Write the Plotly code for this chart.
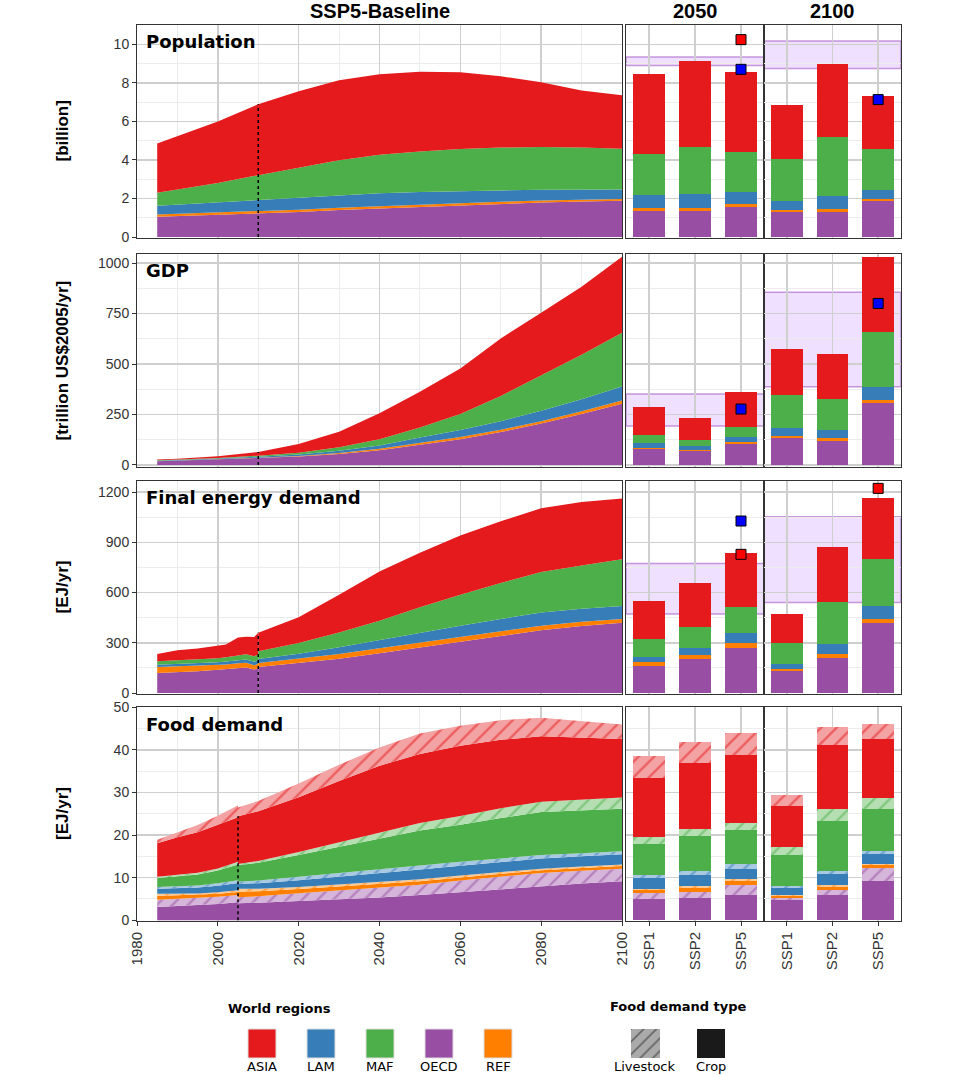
import plotly.graph_objects as go

# ---------------- DATA ----------------
REGIONS = ["OECD", "REF", "LAM", "MAF", "ASIA"]          # stacking order (bottom -> top)
SCEN = ["SSP1", "SSP2", "SSP5"]
BAR_YEARS = ["2050", "2100"]

# Population [billion]
POP_YEARS = [1985, 2000, 2010, 2020, 2030, 2040, 2050, 2060, 2070, 2080, 2090, 2100]
POP_OECD = [1.05, 1.15, 1.21, 1.30, 1.40, 1.48, 1.55, 1.65, 1.72, 1.79, 1.84, 1.88]
POP_REF = [0.12, 0.12, 0.12, 0.12, 0.12, 0.12, 0.13, 0.12, 0.11, 0.10, 0.10, 0.09]
POP_LAM = [0.45, 0.53, 0.59, 0.63, 0.66, 0.67, 0.65, 0.62, 0.59, 0.56, 0.53, 0.50]
POP_MAF = [0.68, 1.00, 1.29, 1.55, 1.80, 2.00, 2.11, 2.18, 2.22, 2.22, 2.18, 2.11]
POP_ASIA = [2.55, 3.20, 3.68, 3.96, 4.15, 4.18, 4.13, 3.98, 3.70, 3.36, 2.95, 2.78]

# GDP [trillion US$2005/yr]
GDP_YEARS = [1985, 1990, 2000, 2010, 2020, 2030, 2040, 2050, 2060, 2070, 2080, 2090, 2100]
GDP_OECD = [18, 21, 28, 34, 42, 54, 73, 100, 128, 163, 205, 252, 303]
GDP_REF = [1, 1, 1, 2, 3, 5, 7, 9, 10, 11, 12, 14, 16]
GDP_LAM = [2, 2, 3, 5, 7, 11, 17, 27, 35, 43, 52, 60, 70]
GDP_MAF = [2, 2, 3, 5, 9, 18, 30, 50, 80, 125, 175, 220, 266]
GDP_ASIA = [4, 5, 8, 18, 43, 76, 129, 177, 225, 285, 310, 337, 376]

# Final energy demand [EJ/yr] - history and projection
FE_H_YEARS = [1985, 1990, 1995, 2000, 2002, 2005, 2007, 2009, 2010]
FE_H_OECD = [119, 124, 130, 139, 143, 150, 152, 140, 148]
FE_H_REF = [36, 35, 30, 28, 27, 27, 28, 26, 26]
FE_H_LAM = [14, 15, 16, 17, 18, 19, 20, 20, 22]
FE_H_MAF = [20, 21, 22, 24, 26, 30, 32, 33, 35]
FE_H_ASIA = [44, 60, 67, 77, 76, 105, 104, 116, 129]

FE_P_YEARS = [2010, 2020, 2030, 2040, 2050, 2060, 2070, 2080, 2090, 2100]
FE_P_OECD = [155, 178, 205, 238, 271, 305, 340, 375, 400, 420]
FE_P_REF = [24, 26, 28, 29, 29, 29, 28, 27, 25, 22]
FE_P_LAM = [24, 30, 40, 50, 60, 68, 74, 78, 78, 77]
FE_P_MAF = [46, 65, 89, 115, 152, 185, 215, 242, 259, 279]
FE_P_ASIA = [111, 153, 225, 294, 326, 354, 368, 382, 378, 364]

# Food demand [EJ/yr] - crop (C) and livestock (L)
FOOD_H_YEARS = [1985, 1990, 1995, 2000, 2005]
FOOD_H_OECD_C = [3.1, 3.3, 3.5, 3.8, 4.2]
FOOD_H_OECD_L = [1.7, 1.7, 1.7, 1.7, 1.7]
FOOD_H_REF_C = [0.9, 0.85, 0.7, 0.7, 0.7]
FOOD_H_REF_L = [0.5, 0.45, 0.35, 0.35, 0.4]
FOOD_H_LAM_C = [1.2, 1.3, 1.4, 1.55, 1.75]
FOOD_H_LAM_L = [0.4, 0.45, 0.5, 0.55, 0.65]
FOOD_H_MAF_C = [2.1, 2.3, 2.6, 3.0, 3.7]
FOOD_H_MAF_L = [0.3, 0.35, 0.4, 0.5, 0.6]
FOOD_H_ASIA_C = [7.9, 8.8, 9.5, 10.2, 10.5]
FOOD_H_ASIA_L = [0.8, 1.2, 1.7, 2.2, 2.8]

FOOD_P_YEARS = [2005, 2010, 2020, 2030, 2040, 2050, 2060, 2070, 2080, 2090, 2100]
FOOD_P_OECD_C = [4.0, 4.1, 4.5, 4.9, 5.3, 5.9, 6.6, 7.3, 8.0, 8.6, 9.15]
FOOD_P_OECD_L = [1.4, 1.5, 1.8, 2.1, 2.3, 2.4, 2.7, 2.9, 3.1, 3.0, 2.95]
FOOD_P_REF_C = [1.3, 1.2, 1.0, 0.9, 0.85, 0.85, 0.75, 0.7, 0.65, 0.65, 0.65]
FOOD_P_REF_L = [0.7, 0.6, 0.5, 0.45, 0.45, 0.45, 0.45, 0.4, 0.35, 0.35, 0.35]
FOOD_P_LAM_C = [1.15, 1.3, 1.6, 1.85, 2.1, 2.3, 2.3, 2.35, 2.4, 2.4, 2.4]
FOOD_P_LAM_L = [0.55, 0.6, 0.8, 0.9, 1.0, 0.95, 0.9, 0.85, 0.8, 0.75, 0.7]
FOOD_P_MAF_C = [3.8, 4.2, 5.1, 6.1, 7.1, 8.2, 8.7, 9.5, 10.1, 10.1, 10.0]
FOOD_P_MAF_L = [0.3, 0.4, 0.7, 1.1, 1.5, 1.8, 2.1, 2.3, 2.4, 2.5, 2.6]
FOOD_P_ASIA_C = [11.2, 11.7, 12.9, 14.4, 15.7, 16.2, 16.5, 16.1, 15.4, 14.6, 13.8]
FOOD_P_ASIA_L = [2.1, 2.4, 3.2, 3.8, 4.3, 4.8, 4.7, 4.6, 4.4, 3.9, 3.4]

# Scenario bars: order = 2050 SSP1, SSP2, SSP5, 2100 SSP1, SSP2, SSP5
POPB_OECD = [1.36, 1.35, 1.54, 1.30, 1.31, 1.87]
POPB_REF = [0.16, 0.14, 0.15, 0.10, 0.14, 0.10]
POPB_LAM = [0.66, 0.75, 0.64, 0.47, 0.67, 0.45]
POPB_MAF = [2.14, 2.42, 2.09, 2.17, 3.08, 2.14]
POPB_ASIA = [4.13, 4.49, 4.13, 2.83, 3.80, 2.76]

GDPB_OECD = [78, 69, 102, 132, 120, 305]
GDPB_REF = [5, 5, 10, 12, 12, 17]
GDPB_LAM = [24, 20, 27, 38, 41, 66]
GDPB_MAF = [40, 30, 48, 163, 154, 269]
GDPB_ASIA = [142, 107, 176, 229, 221, 374]

FEB_OECD = [163, 201, 271, 131, 211, 420]
FEB_REF = [20, 24, 29, 12, 22, 22]
FEB_LAM = [34, 46, 60, 28, 60, 77]
FEB_MAF = [103, 123, 152, 129, 252, 279]
FEB_ASIA = [229, 261, 326, 170, 328, 364]

FOODB_OECD_C = [4.9, 5.3, 5.9, 4.85, 5.9, 9.15]
FOODB_OECD_L = [1.4, 1.3, 2.3, 0.25, 1.1, 3.15]
FOODB_REF_C = [0.7, 0.9, 0.9, 0.5, 0.75, 0.65]
FOODB_REF_L = [0.4, 0.5, 0.5, 0.3, 0.45, 0.35]
FOODB_LAM_C = [2.4, 2.6, 2.5, 1.7, 2.6, 2.2]
FOODB_LAM_L = [0.9, 0.9, 1.0, 0.4, 0.8, 0.7]
FOODB_MAF_C = [7.1, 8.2, 8.2, 7.4, 11.6, 10.0]
FOODB_MAF_L = [1.8, 1.7, 1.6, 1.7, 3.0, 2.6]
FOODB_ASIA_C = [13.9, 15.5, 16.0, 9.8, 15.0, 13.7]
FOODB_ASIA_L = [5.1, 5.0, 5.2, 2.6, 4.2, 3.5]

# Other-model markers: (year panel, scenario, value, colour)
POP_MARKS = [("2050", "SSP5", 10.24, "#ff0000"), ("2050", "SSP5", 8.7, "#0000ff"), ("2100", "SSP5", 7.13, "#0000ff")]
GDP_MARKS = [("2050", "SSP5", 277, "#0000ff"), ("2100", "SSP5", 800, "#0000ff")]
FE_MARKS = [("2050", "SSP5", 1027, "#0000ff"), ("2050", "SSP5", 828, "#ff0000"), ("2100", "SSP5", 1222, "#ff0000")]

# Literature ranges (low, high) for 2050 and 2100
POP_BANDS = [(8.9, 9.34), (8.74, 10.17)]
GDP_BANDS = [(193, 351), (388, 856)]
FE_BANDS = [(472, 774), (541, 1053)]

PANEL_TITLES = ["Population", "GDP", "Final energy demand", "Food demand"]
UNIT_TITLES = ["[billion]", "[trillion US$2005/yr]", "[EJ/yr]", "[EJ/yr]"]
TOP_TITLES = ["SSP5-Baseline", "2050", "2100"]
FOOD_TYPES = ["Livestock", "Crop"]

# ---------------- STYLE ----------------
W, H = 960, 1075
COL = {"ASIA": "#e41a1c", "LAM": "#377eb8", "MAF": "#4daf4a", "OECD": "#984ea3", "REF": "#ff7f00"}
LIGHT = {"ASIA": "#f4a3a4", "LAM": "#a9c9e3", "MAF": "#b5dfb3", "OECD": "#d5b6da", "REF": "#ffc994"}
MAJ = "#cfcfcf"
MIN = "#ececec"
FRAME = "#333333"
TICKFONT = dict(family="Liberation Sans, Arial, sans-serif", size=14, color="#333333")
XTICKFONT = dict(family="Liberation Sans, Arial, sans-serif", size=15, color="#333333")

ROWS_PX = [(25, 238), (254, 467), (481, 694), (707, 921)]
COLS_PX = [(137, 622), (626, 764), (764, 901)]
YRANGES = [[-0.05, 11.0], [-10, 1045], [-6, 1266], [-0.2, 50.1]]
YDTICK = [2, 250, 300, 10]


def X(p):
    return p / W


def Y(p):
    return 1 - p / H


def sfx(k):
    return "" if k == 1 else str(k)


fig = go.Figure()
layout = dict(
    width=W, height=H, margin=dict(l=0, r=0, t=0, b=0, pad=0, autoexpand=False),
    paper_bgcolor="white", plot_bgcolor="white",
    showlegend=False, barmode="stack", bargap=0.3,
)

for r in range(4):
    for c in range(3):
        k = r * 3 + c + 1
        xa = dict(domain=[X(COLS_PX[c][0]), X(COLS_PX[c][1])], anchor="y" + sfx(k),
                  showline=True, mirror=True, linecolor=FRAME, linewidth=1,
                  showgrid=True, gridcolor=MAJ, gridwidth=1.5, zeroline=False,
                  ticks="outside" if r == 3 else "", ticklen=4, tickcolor="#333333",
                  showticklabels=(r == 3), tickangle=-90, tickfont=XTICKFONT,
                  automargin=False)
        if c == 0:
            xa.update(type="linear", range=[1980, 2100], dtick=20, tick0=1980,
                      minor=dict(dtick=10, showgrid=True, gridcolor=MIN, gridwidth=1))
        else:
            xa.update(type="category", range=[-0.5, 2.5], categoryorder="array", categoryarray=SCEN)
        ya = dict(domain=[Y(ROWS_PX[r][1]), Y(ROWS_PX[r][0])], anchor="x" + sfx(k),
                  range=YRANGES[r], dtick=YDTICK[r], tick0=0,
                  showline=True, mirror=True, linecolor=FRAME, linewidth=1,
                  showgrid=True, gridcolor=MAJ, gridwidth=1.5, zeroline=False,
                  minor=dict(dtick=YDTICK[r] / 2, showgrid=True, gridcolor=MIN, gridwidth=1),
                  showticklabels=(c == 0), ticks="outside" if c == 0 else "",
                  ticklen=4, tickcolor="#333333", tickfont=TICKFONT, automargin=False)
        layout["xaxis" + sfx(k)] = xa
        layout["yaxis" + sfx(k)] = ya


def axes(r, c):
    k = r * 3 + c + 1
    return "x" + sfx(k), "y" + sfx(k)


def area(r, years, vals, region, group, livestock=False):
    xa, ya = axes(r, 0)
    kw = dict(x=years, y=vals, stackgroup=group, mode="lines",
              line=dict(width=0, color=COL[region]), xaxis=xa, yaxis=ya,
              hoverinfo="skip", showlegend=False)
    if livestock:
        kw["fillcolor"] = LIGHT[region]
        kw["fillpattern"] = dict(shape="/", fgcolor=COL[region], bgcolor=LIGHT[region],
                                 size=11, solidity=0.22)
    else:
        kw["fillcolor"] = COL[region]
    fig.add_trace(go.Scatter(**kw))


def bars(r, vals, region, livestock=False):
    for j, c in enumerate([1, 2]):
        xa, ya = axes(r, c)
        marker = dict(color=COL[region], line=dict(width=0))
        if livestock:
            marker = dict(color=LIGHT[region], line=dict(width=0),
                          pattern=dict(shape="/", fgcolor=COL[region], size=11,
                                       solidity=0.22, fillmode="overlay"))
        fig.add_trace(go.Bar(x=SCEN, y=vals[3 * j:3 * j + 3], width=0.7, marker=marker,
                             xaxis=xa, yaxis=ya, hoverinfo="skip", showlegend=False))


def marks(r, mlist):
    for yr, sc, v, colr in mlist:
        c = 1 + BAR_YEARS.index(yr)
        xa, ya = axes(r, c)
        fig.add_trace(go.Scatter(x=[sc], y=[v], mode="markers", xaxis=xa, yaxis=ya,
                                 marker=dict(symbol="square", size=10, color=colr,
                                             line=dict(color="black", width=1)),
                                 hoverinfo="skip", showlegend=False))


def vline(r, year, years, series):
    i = years.index(year)
    top = sum(s[i] for s in series)
    xa, ya = axes(r, 0)
    fig.add_trace(go.Scatter(x=[year, year], y=[0, top], mode="lines", xaxis=xa, yaxis=ya,
                             line=dict(color="black", width=1.5, dash="dot"),
                             hoverinfo="skip", showlegend=False))


# Population
pop = [POP_OECD, POP_REF, POP_LAM, POP_MAF, POP_ASIA]
for reg, s in zip(REGIONS, pop):
    area(0, POP_YEARS, s, reg, "pop")
vline(0, 2010, POP_YEARS, pop)
for reg, s in zip(REGIONS, [POPB_OECD, POPB_REF, POPB_LAM, POPB_MAF, POPB_ASIA]):
    bars(0, s, reg)
marks(0, POP_MARKS)

# GDP
gdp = [GDP_OECD, GDP_REF, GDP_LAM, GDP_MAF, GDP_ASIA]
for reg, s in zip(REGIONS, gdp):
    area(1, GDP_YEARS, s, reg, "gdp")
vline(1, 2010, GDP_YEARS, gdp)
for reg, s in zip(REGIONS, [GDPB_OECD, GDPB_REF, GDPB_LAM, GDPB_MAF, GDPB_ASIA]):
    bars(1, s, reg)
marks(1, GDP_MARKS)

# Final energy
feh = [FE_H_OECD, FE_H_REF, FE_H_LAM, FE_H_MAF, FE_H_ASIA]
fep = [FE_P_OECD, FE_P_REF, FE_P_LAM, FE_P_MAF, FE_P_ASIA]
for reg, s in zip(REGIONS, feh):
    area(2, FE_H_YEARS, s, reg, "feh")
for reg, s in zip(REGIONS, fep):
    area(2, FE_P_YEARS, s, reg, "fep")
vline(2, 2010, FE_P_YEARS, fep)
for reg, s in zip(REGIONS, [FEB_OECD, FEB_REF, FEB_LAM, FEB_MAF, FEB_ASIA]):
    bars(2, s, reg)
marks(2, FE_MARKS)

# Food
fh = [(FOOD_H_OECD_C, FOOD_H_OECD_L), (FOOD_H_REF_C, FOOD_H_REF_L), (FOOD_H_LAM_C, FOOD_H_LAM_L),
      (FOOD_H_MAF_C, FOOD_H_MAF_L), (FOOD_H_ASIA_C, FOOD_H_ASIA_L)]
fp = [(FOOD_P_OECD_C, FOOD_P_OECD_L), (FOOD_P_REF_C, FOOD_P_REF_L), (FOOD_P_LAM_C, FOOD_P_LAM_L),
      (FOOD_P_MAF_C, FOOD_P_MAF_L), (FOOD_P_ASIA_C, FOOD_P_ASIA_L)]
fb = [(FOODB_OECD_C, FOODB_OECD_L), (FOODB_REF_C, FOODB_REF_L), (FOODB_LAM_C, FOODB_LAM_L),
      (FOODB_MAF_C, FOODB_MAF_L), (FOODB_ASIA_C, FOODB_ASIA_L)]
for reg, (cs, ls) in zip(REGIONS, fh):
    area(3, FOOD_H_YEARS, cs, reg, "fh")
    area(3, FOOD_H_YEARS, ls, reg, "fh", livestock=True)
for reg, (cs, ls) in zip(REGIONS, fp):
    area(3, FOOD_P_YEARS, cs, reg, "fp")
    area(3, FOOD_P_YEARS, ls, reg, "fp", livestock=True)
food_flat = [s for pair in fp for s in pair][:-1]   # up to top of ASIA crop
vline(3, 2005, FOOD_P_YEARS, food_flat)
for reg, (cs, ls) in zip(REGIONS, fb):
    bars(3, cs, reg)
    bars(3, ls, reg, livestock=True)

# Livestock legend key (hatched swatch) on hidden axes
layout["xaxis13"] = dict(domain=[X(631), X(660)], range=[0, 1], visible=False, anchor="y13")
layout["yaxis13"] = dict(domain=[Y(1058), Y(1029)], range=[0, 1], visible=False, anchor="x13")
fig.add_trace(go.Bar(x=[0.5], y=[1], width=1, xaxis="x13", yaxis="y13", hoverinfo="skip",
                     marker=dict(color="#aaaaaa", line=dict(width=0),
                                 pattern=dict(shape="/", fgcolor="#1a1a1a", size=9,
                                              solidity=0.18, fillmode="overlay"))))

# ---------------- SHAPES (ranges, legend keys) ----------------
shapes = []
for r, bands in enumerate([POP_BANDS, GDP_BANDS, FE_BANDS]):
    for j, (lo, hi) in enumerate(bands):
        k = r * 3 + 2 + j
        shapes.append(dict(type="rect", xref="x" + sfx(k) + " domain", yref="y" + sfx(k),
                           x0=0, x1=1, y0=lo, y1=hi, layer="below",
                           fillcolor="rgba(204,153,255,0.30)",
                           line=dict(color="rgba(170,100,200,0.65)", width=1.5)))

leg_x0 = [248, 307, 366, 425, 484]
legend_order = ["ASIA", "LAM", "MAF", "OECD", "REF"]
for reg, x0 in zip(legend_order, leg_x0):
    shapes.append(dict(type="rect", xref="paper", yref="paper", x0=X(x0), x1=X(x0 + 28),
                       y0=Y(1058), y1=Y(1029), fillcolor=COL[reg],
                       line=dict(color="#dddddd", width=1)))
shapes.append(dict(type="rect", xref="paper", yref="paper", x0=X(697), x1=X(725),
                   y0=Y(1058), y1=Y(1029), fillcolor="#1a1a1a", line=dict(width=0)))
layout["shapes"] = shapes

# ---------------- ANNOTATIONS ----------------
ann = []
top_x = [(137 + 622) / 2, (626 + 764) / 2, (764 + 901) / 2]
for t, xc in zip(TOP_TITLES, top_x):
    ann.append(dict(text="<b>%s</b>" % t, x=X(xc), y=Y(11), xref="paper", yref="paper",
                    showarrow=False, xanchor="center", yanchor="middle",
                    font=dict(family="Liberation Sans, Arial, sans-serif", size=20, color="black")))
title_y = [42, 270, 497, 724]
for t, yc in zip(PANEL_TITLES, title_y):
    ann.append(dict(text="<b>%s</b>" % t, x=X(144), y=Y(yc), xref="paper", yref="paper",
                    showarrow=False, xanchor="left", yanchor="middle",
                    font=dict(family="DejaVu Sans, sans-serif", size=18, color="black")))
for r, t in enumerate(UNIT_TITLES):
    yc = (ROWS_PX[r][0] + ROWS_PX[r][1]) / 2
    ann.append(dict(text="<b>%s</b>" % t, x=X(62), y=Y(yc), xref="paper", yref="paper",
                    showarrow=False, xanchor="center", yanchor="middle", textangle=-90,
                    font=dict(family="Liberation Sans, Arial, sans-serif",
                              size=17, color="black")))
ann.append(dict(text="<b>World regions</b>", x=X(279), y=Y(1008), xref="paper", yref="paper",
                showarrow=False, xanchor="center", yanchor="middle",
                font=dict(family="DejaVu Sans, sans-serif", size=13, color="black")))
for reg, x0 in zip(legend_order, leg_x0):
    ann.append(dict(text=reg, x=X(x0 + 14), y=Y(1066), xref="paper", yref="paper",
                    showarrow=False, xanchor="center", yanchor="middle",
                    font=dict(family="DejaVu Sans, sans-serif", size=13, color="black")))
ann.append(dict(text="<b>Food demand type</b>", x=X(678), y=Y(1006), xref="paper", yref="paper",
                showarrow=False, xanchor="center", yanchor="middle",
                font=dict(family="DejaVu Sans, sans-serif", size=13, color="black")))
for t, xc in zip(FOOD_TYPES, [645, 711]):
    ann.append(dict(text=t, x=X(xc), y=Y(1066), xref="paper", yref="paper",
                    showarrow=False, xanchor="center", yanchor="middle",
                    font=dict(family="DejaVu Sans, sans-serif", size=13, color="black")))
layout["annotations"] = ann

fig.update_layout(**layout)
# remove the page's default 8px body margin so the 960x1075 figure fills the window exactly
fig.write_html("out.html", config={"displayModeBar": False, "staticPlot": True},
               post_script="document.body.style.margin='0px';document.body.style.overflow='hidden';")
